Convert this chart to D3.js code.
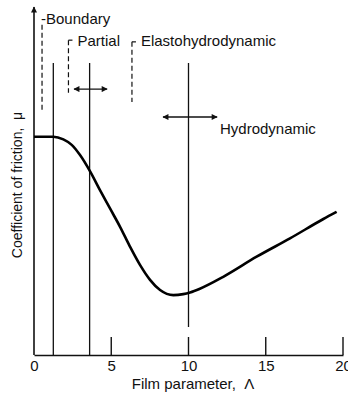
<!DOCTYPE html>
<html>
<head>
<meta charset="utf-8">
<script src="https://cdn.jsdelivr.net/npm/d3@7"></script>
<style>
  body { margin: 0; background: #fff; }
  text { font-family: "Liberation Sans", Arial, sans-serif; fill: #111; white-space: pre; }
</style>
</head>
<body>
<div id="chart"></div>
<script>
// curve: film parameter vs coefficient of friction (arbitrary units)
var lambda = [0, 1.25, 1.9, 2.44, 2.98, 3.63, 4.27, 4.92, 5.57, 6.21, 6.86, 7.51, 8.16, 9.02, 9.66, 10.1, 10.74, 12.25, 14.41, 16.57, 18.73, 19.59]
var mu     = [6.42, 6.42, 6.34, 6.18, 5.88, 5.40, 4.85, 4.31, 3.77, 3.19, 2.65, 2.21, 1.91, 1.76, 1.79, 1.84, 1.95, 2.30, 2.89, 3.43, 4.00, 4.21]

var xTicks = [0, 5, 10, 15, 20]

// solid regime boundaries
var boundaries = [1.25, 3.6, 10]
var boundaryTop = 8.59

// dashed label markers
var regimeNames = ["-Boundary", "Partial", "Elastohydrodynamic"]
var regimeLambda = [0.52, 2.23, 6.34]
var regimeTop = [9.71, 9.26, 9.21]
var regimeBottom = [7.21, 7.71, 7.44]

// double arrows
var arrowFrom = [2.59, 8.35]
var arrowTo = [4.73, 11.85]
var arrowMu = [7.82, 7.0]

// set the dimensions
var width = 348
    height = 395

var svg = d3.select("#chart")
    .append("svg")
    .attr("width", width)
    .attr("height", height)

var x = d3.scaleLinear().domain([0, 20]).range([34, 343])
var y = d3.scaleLinear().domain([0, 10]).range([355, 15])

var defs = svg.append("defs")
defs.append("marker")
    .attr("id", "head")
    .attr("viewBox", "0 0 10 10")
    .attr("refX", 9).attr("refY", 5)
    .attr("markerWidth", 7).attr("markerHeight", 6)
    .attr("markerUnits", "userSpaceOnUse")
    .attr("orient", "auto-start-reverse")
    .append("path")
    .attr("d", "M0,0 L10,5 L0,10 z")
    .attr("fill", "#111")

// y axis with arrow
svg.append("line")
    .attr("x1", x(0)).attr("x2", x(0))
    .attr("y1", y(0)).attr("y2", 7)
    .attr("stroke", "#111").attr("stroke-width", 1.6)
    .attr("marker-end", "url(#head)")

// x axis
var xAxis = d3.axisBottom(x).tickValues(xTicks).tickSize(0).tickPadding(5)
var gx = svg.append("g")
    .attr("transform", "translate(0," + y(0) + ")")
    .call(xAxis)
gx.select(".domain").attr("stroke", "#111").attr("stroke-width", 1.6)
gx.selectAll("text").style("font-size", "15px").attr("fill", "#111")

// ticks pointing up (not at 0)
svg.selectAll(".uptick")
    .data(xTicks.slice(1))
    .enter().append("line")
    .attr("class", "uptick")
    .attr("x1", function(d) { return x(d) }).attr("x2", function(d) { return x(d) })
    .attr("y1", y(0)).attr("y2", y(0) - 18)
    .attr("stroke", "#111").attr("stroke-width", 1.4)

// solid vertical boundaries
svg.selectAll(".bound")
    .data(boundaries)
    .enter().append("line")
    .attr("class", "bound")
    .attr("x1", function(d) { return x(d) }).attr("x2", function(d) { return x(d) })
    .attr("y1", y(boundaryTop))
    .attr("y2", function(d) { return d == 10 ? y(0) - 28 : y(0) })
    .attr("stroke", "#111").attr("stroke-width", 1.3)

// dashed markers + labels
regimeNames.forEach(function(name, i) {
    var lx = x(regimeLambda[i])
    svg.append("line")
        .attr("x1", lx).attr("x2", lx)
        .attr("y1", y(regimeTop[i])).attr("y2", y(regimeBottom[i]))
        .attr("stroke", "#111").attr("stroke-width", 1.2)
        .attr("stroke-dasharray", "5,3")
    if (i > 0) {
        svg.append("line")
            .attr("x1", lx).attr("x2", lx + 4)
            .attr("y1", y(regimeTop[i])).attr("y2", y(regimeTop[i]))
            .attr("stroke", "#111").attr("stroke-width", 1.2)
    }
    svg.append("text")
        .attr("x", i == 0 ? lx - 1 : lx + 9)
        .attr("y", i == 0 ? 24 : 46)
        .style("font-size", "15px")
        .text(name)
})

// double arrows
arrowFrom.forEach(function(d, i) {
    svg.append("line")
        .attr("x1", x(d)).attr("x2", x(arrowTo[i]))
        .attr("y1", y(arrowMu[i])).attr("y2", y(arrowMu[i]))
        .attr("stroke", "#111").attr("stroke-width", 1.3)
        .attr("marker-start", "url(#head)")
        .attr("marker-end", "url(#head)")
})

svg.append("text")
    .attr("x", 220).attr("y", 134)
    .style("font-size", "15px")
    .text("Hydrodynamic")

// the friction curve
var pts = lambda.map(function(d, i) { return [d, mu[i]] })
svg.append("path")
    .datum(pts)
    .attr("fill", "none")
    .attr("stroke", "#000")
    .attr("stroke-width", 2.6)
    .attr("d", d3.line()
        .x(function(d) { return x(d[0]) })
        .y(function(d) { return y(d[1]) })
        .curve(d3.curveMonotoneX))

// axis titles
svg.append("text")
    .attr("x", 193).attr("y", 389)
    .attr("text-anchor", "middle")
    .style("font-size", "15px")
    .text("Film parameter,  \u039B")

svg.append("text")
    .attr("transform", "translate(22,185) rotate(-90)")
    .attr("text-anchor", "middle")
    .style("font-size", "14px")
    .text("Coefficient of friction,  \u03BC")
</script>
</body>
</html>
